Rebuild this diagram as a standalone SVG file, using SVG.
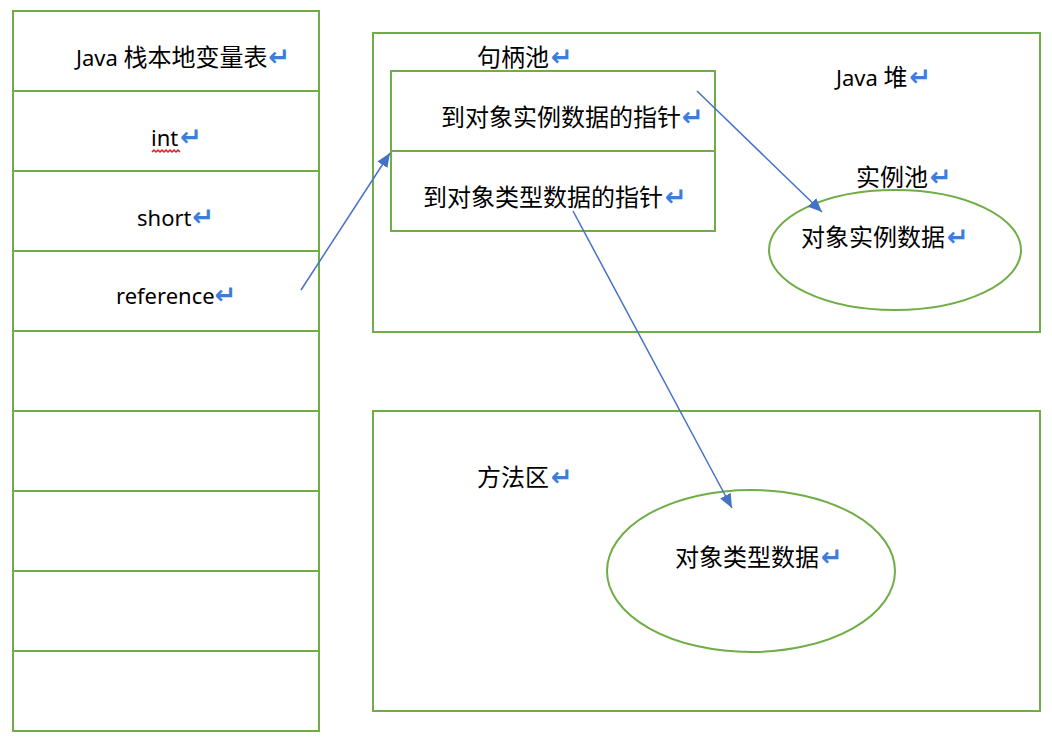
<svg xmlns="http://www.w3.org/2000/svg" width="1052" height="746" viewBox="0 0 1052 746">
<style>
.box{fill:none;stroke:#70AD47;stroke-width:2}
.t{font-family:"Noto Sans","Noto Sans CJK SC",sans-serif;font-size:24px;fill:#000}
.l{font-size:22px}
.r{font-family:"DejaVu Sans",sans-serif;font-size:26px;font-weight:bold;fill:#3B7DDD}
.c{fill:none;stroke:#4472C4;stroke-width:1.5;marker-end:url(#ah)}
</style>
<defs>
<marker id="ah" markerUnits="userSpaceOnUse" markerWidth="16" markerHeight="12" refX="14" refY="6" orient="auto">
<path d="M0,0 L14,6 L0,12 Z" fill="#4472C4"/>
</marker>
</defs>
<rect width="1052" height="746" fill="#fff"/>
<g id="stack">
<rect class="box" x="13" y="11" width="306" height="720"/>
<path class="box" d="M13,91H319M13,171H319M13,251H319M13,331H319M13,411H319M13,491H319M13,571H319M13,651H319"/>
<text class="t" x="76" y="66"><tspan class="l">Java </tspan>栈本地变量表<tspan class="r" dx="1">↵</tspan></text>
<text class="t l" x="151" y="146">int<tspan class="r" dx="2">↵</tspan></text>
<path d="M152,152 l2,-2 l2,2 l2,-2 l2,2 l2,-2 l2,2 l2,-2 l2,2 l2,-2 l2,2 l2,-2 l2,2 l2,-2 l2,2" fill="none" stroke="#E02020" stroke-width="1.5"/>
<text class="t l" x="137" y="226">short<tspan class="r" dx="1">↵</tspan></text>
<text class="t l" x="116" y="304">reference<tspan class="r" dx="0">↵</tspan></text>
</g>
<g id="heap">
<rect class="box" x="373" y="33" width="667" height="299"/>
<text class="t" x="836" y="86"><tspan class="l">Java </tspan>堆<tspan class="r" dx="2">↵</tspan></text>
</g>
<g id="handle-pool">
<text class="t" x="477" y="66">句柄池<tspan class="r" dx="2">↵</tspan></text>
<rect class="box" x="391" y="71" width="324" height="160"/>
<path class="box" d="M391,151H715"/>
<text class="t" x="441" y="126">到对象实例数据的指针<tspan class="r" dx="1">↵</tspan></text>
<text class="t" x="423" y="206">到对象类型数据的指针<tspan class="r" dx="2">↵</tspan></text>
</g>
<g id="instance-pool">
<text class="t" x="856" y="186">实例池<tspan class="r" dx="2">↵</tspan></text>
<ellipse class="box" cx="895" cy="250" rx="126" ry="60"/>
<text class="t" x="801" y="246">对象实例数据<tspan class="r" dx="2">↵</tspan></text>
</g>
<g id="method-area">
<rect class="box" x="373" y="411" width="667" height="300"/>
<text class="t" x="477" y="486">方法区<tspan class="r" dx="2">↵</tspan></text>
</g>
<g id="type-data">
<ellipse class="box" cx="751" cy="571" rx="144" ry="81"/>
<text class="t" x="675" y="566">对象类型数据<tspan class="r" dx="2">↵</tspan></text>
</g>
<g id="connectors">
<path class="c" d="M301,290 L390,153"/>
<path class="c" d="M697,91 L822,212"/>
<path class="c" d="M573,211 L732,508"/>
</g>
</svg>
